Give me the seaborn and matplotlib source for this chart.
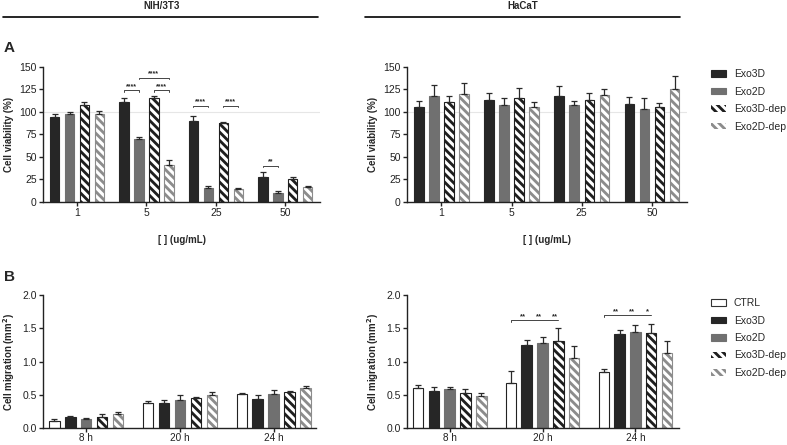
import numpy as np
import pandas as pd
import matplotlib
matplotlib.use("Agg")
import matplotlib.pyplot as plt
import seaborn as sns
from matplotlib.patches import Patch, Rectangle
from matplotlib.lines import Line2D

# Panel A - cell viability (%) by concentration
conc = ["1", "5", "25", "50"]
groups_a = ["Exo3D", "Exo2D", "Exo3D-dep", "Exo2D-dep"]

nih_exo3d = [94, 111, 90, 27.5]
nih_exo3d_err = [4, 4, 6, 5.5]
nih_exo2d = [97.5, 70, 16, 10.5]
nih_exo2d_err = [2, 2, 2, 2]
nih_exo3d_dep = [108, 116, 88, 25]
nih_exo3d_dep_err = [3, 1.5, 1, 3]
nih_exo2d_dep = [97.5, 41, 14.5, 16.5]
nih_exo2d_dep_err = [4, 6, 1, 1.5]

hac_exo3d = [105, 113, 117.5, 109]
hac_exo3d_err = [7, 8, 11, 8]
hac_exo2d = [117.5, 108, 107.5, 103.5]
hac_exo2d_err = [13, 7, 5, 12.5]
hac_exo3d_dep = [111.5, 116, 113, 105]
hac_exo3d_dep_err = [6, 11, 8, 5.5]
hac_exo2d_dep = [120, 106, 119, 125.5]
hac_exo2d_dep_err = [12, 5, 6, 14]

# Panel B - cell migration (mm2) by time
times = ["8 h", "20 h", "24 h"]
groups_b = ["CTRL", "Exo3D", "Exo2D", "Exo3D-dep", "Exo2D-dep"]

nih_ctrl = [0.11, 0.38, 0.51]
nih_ctrl_err = [0.025, 0.025, 0.015]
nih_m_exo3d = [0.16, 0.375, 0.44]
nih_m_exo3d_err = [0.015, 0.05, 0.055]
nih_m_exo2d = [0.14, 0.42, 0.515]
nih_m_exo2d_err = [0.01, 0.07, 0.06]
nih_m_exo3d_dep = [0.17, 0.445, 0.535]
nih_m_exo3d_dep_err = [0.04, 0.025, 0.025]
nih_m_exo2d_dep = [0.21, 0.495, 0.595]
nih_m_exo2d_dep_err = [0.025, 0.045, 0.03]

hac_ctrl = [0.60, 0.67, 0.84]
hac_ctrl_err = [0.05, 0.19, 0.05]
hac_m_exo3d = [0.56, 1.255, 1.42]
hac_m_exo3d_err = [0.055, 0.07, 0.06]
hac_m_exo2d = [0.58, 1.28, 1.45]
hac_m_exo2d_err = [0.04, 0.09, 0.10]
hac_m_exo3d_dep = [0.52, 1.31, 1.43]
hac_m_exo3d_dep_err = [0.065, 0.2, 0.14]
hac_m_exo2d_dep = [0.48, 1.05, 1.13]
hac_m_exo2d_dep_err = [0.045, 0.19, 0.18]

# significance: (category index, bar i, bar j, height, label)
nih_sig = [(1, 0, 1, 124, "****"), (1, 2, 3, 124, "****"), (1, 1, 3, 138, "****"),
           (2, 0, 1, 107, "****"), (2, 2, 3, 107, "****"), (3, 0, 1, 40.5, "**")]
# migration: (category index, bar span start, end, height, [(bar, label)])
hac_sig = [(1, 0, 3, 1.63, [(1, "**"), (2, "**"), (3, "**")]),
           (2, 0, 3, 1.70, [(1, "**"), (2, "**"), (3, "*")])]

colors = {"CTRL": "#ffffff", "Exo3D": "#262626", "Exo2D": "#707070",
          "Exo3D-dep": "#1e1e1e", "Exo2D-dep": "#8c8c8c"}
hatched = {"Exo3D-dep", "Exo2D-dep"}

sns.set_theme(style="ticks")
plt.rcParams["font.family"] = ["Liberation Sans", "DejaVu Sans"]
plt.rcParams["hatch.linewidth"] = 2.2
plt.rcParams["axes.linewidth"] = 1.0
plt.rcParams["axes.edgecolor"] = "#222222"


def draw_bars(ax, cats, names, means, errs, width, gap):
    rows = []
    for name, vals in zip(names, means):
        for c, v in zip(cats, vals):
            rows.append({"cat": c, "grp": name, "val": v})
    df = pd.DataFrame(rows)
    sns.barplot(data=df, x="cat", y="val", hue="grp", order=cats, hue_order=names,
                palette=[colors[n] for n in names], width=width, gap=gap,
                errorbar=None, legend=False, saturation=1, ax=ax, zorder=2)
    centers = []
    for name, cont, err in zip(names, ax.containers, errs):
        xs = []
        for bar, e in zip(cont, err):
            x = bar.get_x() + bar.get_width() / 2
            xs.append(x)
            h = bar.get_height()
            ax.errorbar(x, h, yerr=[[0], [e]], color="#2a2a2a", lw=0.9,
                        capsize=2.3, capthick=0.9, zorder=3)
            if name in hatched:
                bar.set_hatch("\\\\\\\\")
                bar.set_edgecolor("white")
                bar.set_linewidth(0)
                ax.add_patch(Rectangle((bar.get_x(), 0), bar.get_width(), h,
                                       fill=False, edgecolor=colors[name],
                                       lw=0.8, zorder=2.5))
            elif name == "CTRL":
                bar.set_edgecolor("#222222")
                bar.set_linewidth(0.8)
            else:
                bar.set_edgecolor(colors[name])
                bar.set_linewidth(0.8)
        centers.append(xs)
    return centers


def style_axes(ax, ylabel, xlabel=None):
    sns.despine(ax=ax)
    ax.tick_params(axis="both", labelsize=7.5, length=3, width=1, colors="#222222",
                   pad=1.5)
    ax.set_ylabel(ylabel, fontsize=7, fontweight="bold", labelpad=4)
    if xlabel:
        ax.set_xlabel(xlabel, fontsize=7, fontweight="bold", labelpad=12)
    else:
        ax.set_xlabel("")


fig = plt.figure(figsize=(7.87, 4.45), dpi=100)
W, H = 787, 445


def add_ax(x0, x1, y_top, y_bot):
    return fig.add_axes([x0 / W, 1 - y_bot / H, (x1 - x0) / W, (y_bot - y_top) / H])


ax_a1 = add_ax(43, 320, 67, 202)
ax_a2 = add_ax(407, 687, 67, 202)
ax_b1 = add_ax(43, 316, 295, 428)
ax_b2 = add_ax(407, 679, 295, 428)

# Panel A
nih_a = draw_bars(ax_a1, conc, groups_a,
                  [nih_exo3d, nih_exo2d, nih_exo3d_dep, nih_exo2d_dep],
                  [nih_exo3d_err, nih_exo2d_err, nih_exo3d_dep_err, nih_exo2d_dep_err],
                  0.86, 0.37)
draw_bars(ax_a2, conc, groups_a,
          [hac_exo3d, hac_exo2d, hac_exo3d_dep, hac_exo2d_dep],
          [hac_exo3d_err, hac_exo2d_err, hac_exo3d_dep_err, hac_exo2d_dep_err],
          0.86, 0.37)
for ax in (ax_a1, ax_a2):
    ax.axhline(100, color="#e6e6e6", lw=0.8, zorder=0)
    ax.set_ylim(0, 150)
    ax.set_yticks([0, 25, 50, 75, 100, 125, 150])
    ax.set_xlim(-0.49, 3.5)
    style_axes(ax, "Cell viability (%)", "[ ] (ug/mL)")

for ci, i, j, y, lab in nih_sig:
    x1, x2 = nih_a[i][ci], nih_a[j][ci]
    ax_a1.plot([x1, x1, x2, x2], [y - 1.5, y, y, y - 1.5], color="#444444", lw=0.7)
    ax_a1.text((x1 + x2) / 2, y + 0.5, lab, ha="center", va="bottom",
               fontsize=5, fontweight="bold")

# Panel B
draw_bars(ax_b1, times, groups_b,
          [nih_ctrl, nih_m_exo3d, nih_m_exo2d, nih_m_exo3d_dep, nih_m_exo2d_dep],
          [nih_ctrl_err, nih_m_exo3d_err, nih_m_exo2d_err, nih_m_exo3d_dep_err,
           nih_m_exo2d_dep_err],
          0.85, 0.33)
hac_b = draw_bars(ax_b2, times, groups_b,
                  [hac_ctrl, hac_m_exo3d, hac_m_exo2d, hac_m_exo3d_dep, hac_m_exo2d_dep],
                  [hac_ctrl_err, hac_m_exo3d_err, hac_m_exo2d_err, hac_m_exo3d_dep_err,
                   hac_m_exo2d_dep_err],
                  0.85, 0.33)
for ax, xr in ((ax_b1, 2.45), (ax_b2, 2.47)):
    ax.set_ylim(0, 2.0)
    ax.set_yticks([0, 0.5, 1.0, 1.5, 2.0])
    ax.set_yticklabels(["0.0", "0.5", "1.0", "1.5", "2.0"])
    ax.set_xlim(-0.46, xr)
    style_axes(ax, "Cell migration (mm$\\mathbf{^2}$)")
    ax.tick_params(axis="x", pad=0.5, labelsize=7.2)

for ci, i, j, y, stars in hac_sig:
    x1, x2 = hac_b[i][ci], hac_b[j][ci]
    ax_b2.plot([x1, x1, x2], [y - 0.03, y, y], color="#444444", lw=0.7)
    for k, lab in stars:
        ax_b2.text(hac_b[k][ci] - 0.04, y - 0.01, lab, ha="center", va="bottom",
                   fontsize=5.5, fontweight="bold")

# legends
def legend_handles(names):
    hs = []
    for n in names:
        if n in hatched:
            hs.append(Patch(facecolor=colors[n], edgecolor="white", hatch="\\\\\\\\", lw=0))
        elif n == "CTRL":
            hs.append(Patch(facecolor="white", edgecolor="#333333", lw=0.8))
        else:
            hs.append(Patch(facecolor=colors[n], edgecolor=colors[n], lw=0.8))
    return hs


for names, ytop in ((groups_a, 69), (groups_b, 298)):
    fig.legend(legend_handles(names), names, loc="upper left",
               bbox_to_anchor=(711 / W, 1 - ytop / H), frameon=False, fontsize=7.5,
               handlelength=1.45, handleheight=0.6, labelspacing=0.72,
               handletextpad=0.75, borderpad=0, borderaxespad=0)

# headers
fig.text(162 / W, 1 - 6 / H, "NIH/3T3", ha="center", va="center", fontsize=7,
         fontweight="bold")
fig.text(523 / W, 1 - 6 / H, "HaCaT", ha="center", va="center", fontsize=7,
         fontweight="bold")
for x0, x1 in ((3, 318), (365, 680)):
    fig.add_artist(Line2D([x0 / W, x1 / W], [1 - 17 / H, 1 - 17 / H], color="black",
                          lw=1.2, transform=fig.transFigure))
fig.text(4 / W, 1 - 48 / H, "A", fontsize=11, fontweight="bold", va="center")
fig.text(4 / W, 1 - 277 / H, "B", fontsize=11, fontweight="bold", va="center")

fig.savefig("out.png", dpi=100, facecolor="white")
